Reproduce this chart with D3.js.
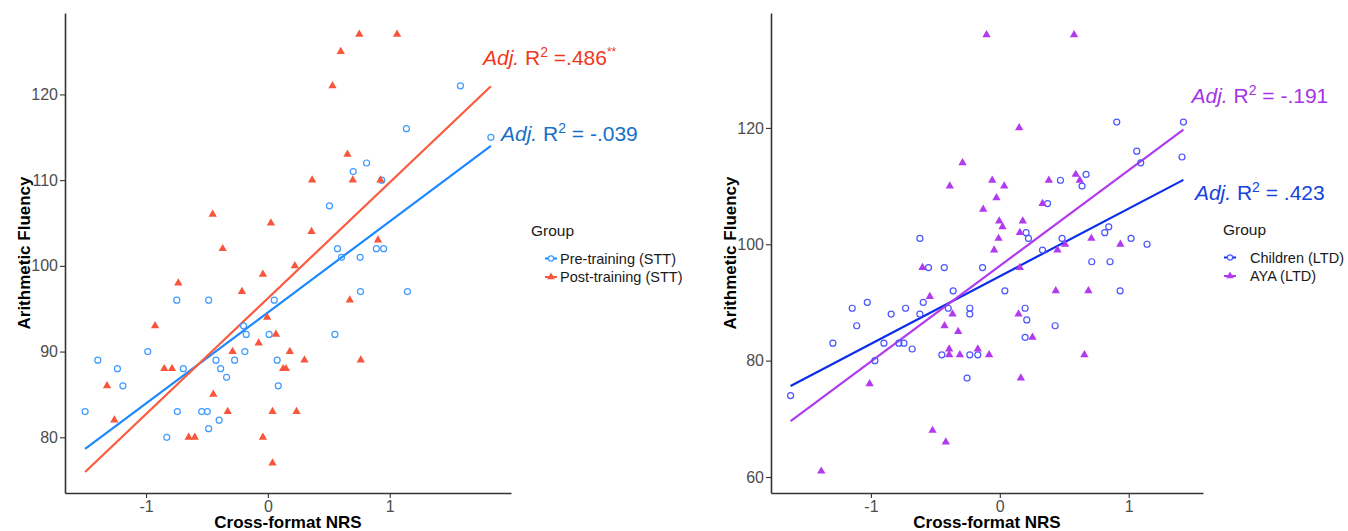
<!DOCTYPE html>
<html>
<head>
<meta charset="utf-8">
<script src="https://cdn.jsdelivr.net/npm/d3@7"></script>
<style>
  body { margin: 0; background: #fff; }
  svg { font-family: "Liberation Sans", Arial, Helvetica, sans-serif; }
</style>
</head>
<body>
<svg id="chart" width="1348" height="531"></svg>
<script>
// ---- data: [Cross-format NRS, Arithmetic Fluency] ----
const preTraining = [
  [-1.50,83],[-1.396,89],[-1.235,88],[-1.19,86],[-0.986,90],[-0.748,96],[-0.743,83],[-0.83,80],
  [-0.694,88],[-0.486,96],[-0.543,83],[-0.497,83],[-0.486,81],[-0.40,82],[-0.426,89],[-0.388,88],
  [-0.339,87],[-0.273,89],[-0.20,93],[-0.178,92],[-0.189,90],[0.01,92],[0.052,96],[0.076,89],
  [0.085,86],[0.55,92],[0.76,97],[1.145,97],[1.58,121],[1.83,115],[1.137,116],[0.81,112],
  [0.70,111],[0.934,110],[0.505,107],[0.571,102],[0.604,101],[0.757,101],[0.89,102],[0.95,102]
];
const postTraining = [
  [0.75,127],[1.06,127],[0.598,125],[0.53,121],[0.653,113],[0.363,110],[0.697,110],[0.924,110],
  [0.025,105],[-0.453,106],[-0.371,102],[0.358,104],[0.904,103],[0.221,100],[-1.32,86],[-1.26,82],
  [-0.926,93],[-0.735,98],[-0.85,88],[-0.787,88],[-0.448,85],[-0.33,83],[-0.65,80],[-0.60,80],
  [-0.29,90],[-0.213,97],[-0.041,99],[-0.006,94],[-0.076,91],[0.066,92],[-0.041,80],[0.038,83],
  [0.038,77],[0.672,96],[0.18,90],[0.30,89],[0.125,88],[0.148,88],[0.762,89],[0.235,83]
];
const children = [
  [-0.62,101],[-0.553,96],[-0.431,96],[0.907,121],[1.424,121],[1.062,116],[1.093,114],[1.413,115],
  [0.47,111],[0.669,112],[0.638,110],[0.37,107],[0.204,102],[0.222,101],[0.331,99],[0.483,101],
  [0.814,102],[0.845,103],[1.018,101],[1.142,100],[0.713,97],[0.855,97],[-0.134,96],[-0.362,92],
  [-1.145,89],[-1.028,90],[-1.11,86],[-0.843,88],[-0.731,89],[-0.594,90],[-0.62,88],[-0.40,89],
  [-1.295,83],[-0.899,83],[-0.783,83],[-0.744,83],[-0.68,82],[-0.969,80],[-0.45,81],[-1.623,74],
  [0.039,92],[0.933,92],[-0.233,89],[-0.233,88],[0.196,89],[0.209,87],[0.429,86],[0.196,84],
  [-0.233,81],[-0.171,81],[-0.254,77]
];
const aya = [
  [-0.388,110],[-0.60,96],[-0.289,114],[-0.103,136],[0.576,136],[0.15,120],[-0.059,111],[0.034,110],
  [0.38,111],[0.589,112],[0.62,111],[-0.026,108],[-0.129,106],[0.331,107],[-0.005,104],[0.178,104],
  [0.021,103],[0.155,102],[-0.01,101],[-0.044,99],[0.506,100],[0.447,99],[0.71,101],[0.935,100],
  [0.155,96],[-0.543,91],[-0.367,88],[-0.429,86],[-0.323,85],[-0.393,82],[-0.393,81],[-1.01,76],
  [-0.522,68],[-0.419,66],[-1.385,61],[0.434,92],[0.687,92],[0.145,88],[0.253,84],[-0.171,82],
  [-0.31,81],[-0.083,81],[0.656,81],[0.163,77]
];

const leftXTicks = [-1, 0, 1];
const leftYTicks = [80, 90, 100, 110, 120];
const rightXTicks = [-1, 0, 1];
const rightYTicks = [60, 80, 100, 120];

const leftLabels = ["Pre-training (STT)", "Post-training (STT)"];
const rightLabels = ["Children (LTD)", "AYA (LTD)"];
const leftR2 = ["-.039", ".486"];
const rightR2 = [".423", "-.191"];

const svg = d3.select("#chart");

// ordinary least squares, like geom_smooth(method = "lm")
function fit(pts) {
  const mx = d3.mean(pts, d => d[0]), my = d3.mean(pts, d => d[1]);
  let sxy = 0, sxx = 0;
  pts.forEach(d => { sxy += (d[0]-mx)*(d[1]-my); sxx += (d[0]-mx)*(d[0]-mx); });
  const b = sxy / sxx;
  return { a: my - b*mx, b: b };
}

function panel(cfg) {
  const x = d3.scaleLinear().domain(cfg.xDomain).range([cfg.left, cfg.right]);
  const y = d3.scaleLinear().domain(cfg.yDomain).range([493, 13]);
  const g = svg.append("g");

  // axes
  const xa = g.append("g").attr("transform", "translate(0,493)")
    .call(d3.axisBottom(x).tickValues(cfg.xTicks).tickSize(5).tickSizeOuter(0).tickFormat(d3.format("d")));
  const ya = g.append("g").attr("transform", `translate(${cfg.left},0)`)
    .call(d3.axisLeft(y).tickValues(cfg.yTicks).tickSize(5).tickSizeOuter(0));
  [xa, ya].forEach(a => {
    a.select(".domain").attr("stroke", "#333").attr("stroke-width", 1.6);
    a.selectAll(".tick line").attr("stroke", "#333").attr("stroke-width", 1.1);
    a.selectAll(".tick text").attr("fill", "#4d4d4d").style("font-size", "16px")
      .style("font-family", "Liberation Sans, Arial, sans-serif");
  });
  xa.selectAll(".tick text").attr("dy", "0.71em").text(d => d < 0 ? "-" + Math.abs(d) : d);
  ya.selectAll(".tick text").attr("x", -7);

  // regression lines over the full x range of the panel's data
  const all = cfg.groups.flatMap(s => s.data);
  const xr = d3.extent(all, d => d[0]);
  cfg.groups.forEach(s => {
    const f = fit(s.data);
    g.append("line")
      .attr("x1", x(xr[0])).attr("y1", y(f.a + f.b*xr[0]))
      .attr("x2", x(xr[1])).attr("y2", y(f.a + f.b*xr[1]))
      .attr("stroke", s.line).attr("stroke-width", 2.2);
  });

  // points
  cfg.groups.forEach(s => {
    if (s.shape === "circle") {
      g.selectAll(null).data(s.data).enter().append("circle")
        .attr("cx", d => x(d[0])).attr("cy", d => y(d[1])).attr("r", 3)
        .attr("fill", "none").attr("stroke", s.point).attr("stroke-width", 1.2);
    } else {
      g.selectAll(null).data(s.data).enter().append("path")
        .attr("d", d3.symbol(d3.symbolTriangle, 30))
        .attr("transform", d => `translate(${x(d[0])},${y(d[1])})`)
        .attr("fill", s.point);
    }
  });

  // R² annotations
  cfg.notes.forEach(n => {
    const t = g.append("text").attr("x", x(n.x)).attr("y", y(n.y))
      .attr("fill", n.color).style("font-size", "21px");
    t.append("tspan").attr("font-style", "italic").text("Adj.");
    t.append("tspan").text(" R");
    t.append("tspan").attr("dy", -8).style("font-size", "14px").text("2");
    t.append("tspan").attr("dy", 8).text(n.eq);
    if (n.stars) t.append("tspan").attr("dy", -9).style("font-size", "12px").text(n.stars);
  });

  // axis titles
  g.append("text").attr("x", (cfg.left + cfg.right)/2).attr("y", 528)
    .attr("text-anchor", "middle").attr("font-weight", "bold").style("font-size", "17px")
    .text("Cross-format NRS");
  g.append("text").attr("transform", `translate(${cfg.left - 35},253) rotate(-90)`)
    .attr("text-anchor", "middle").attr("font-weight", "bold").style("font-size", "17px")
    .text("Arithmetic Fluency");

  // legend
  const lg = g.append("g").attr("transform", `translate(${cfg.legend[0]},${cfg.legend[1]})`);
  lg.append("text").attr("x", 0).attr("y", 0).style("font-size", "15.5px").attr("fill", "#1a1a1a").text("Group");
  cfg.groups.forEach((s, i) => {
    const cy = 22.5 + i*18.5;
    const kx = cfg.keyX;
    lg.append("line").attr("x1", kx - 6).attr("x2", kx + 6).attr("y1", cy).attr("y2", cy)
      .attr("stroke", s.line).attr("stroke-width", 2);
    if (s.shape === "circle") {
      lg.append("circle").attr("cx", kx).attr("cy", cy).attr("r", 2.6)
        .attr("fill", "#fff").attr("stroke", s.point).attr("stroke-width", 1.2);
    } else {
      lg.append("path").attr("d", d3.symbol(d3.symbolTriangle, 26))
        .attr("transform", `translate(${kx},${cy})`).attr("fill", s.point);
    }
    lg.append("text").attr("x", cfg.textX).attr("y", cy + 5).style("font-size", "14.5px")
      .attr("fill", "#1a1a1a").text(s.label);
  });
}

panel({
  left: 65, right: 511,
  xDomain: [-1.665, 1.995], yDomain: [73.5, 129.5],
  xTicks: leftXTicks, yTicks: leftYTicks,
  groups: [
    { data: preTraining, label: leftLabels[0], shape: "circle", point: "#3d9bff", line: "#1e88ff" },
    { data: postTraining, label: leftLabels[1], shape: "triangle", point: "#f8563c", line: "#fa5a3e" }
  ],
  notes: [
    { x: 1.765, y: 123.4, eq: " =" + leftR2[1], stars: "**", color: "#f0381c" },
    { x: 1.913, y: 114.6, eq: " = " + leftR2[0], color: "#1670c6" }
  ],
  legend: [531, 236], keyX: 20, textX: 29
});

panel({
  left: 771, right: 1203,
  xDomain: [-1.775, 1.576], yDomain: [57.25, 139.75],
  xTicks: rightXTicks, yTicks: rightYTicks,
  groups: [
    { data: children, label: rightLabels[0], shape: "circle", point: "#4a55ff", line: "#0a2ee8" },
    { data: aya, label: rightLabels[1], shape: "triangle", point: "#b23aee", line: "#b23aee" }
  ],
  notes: [
    { x: 1.487, y: 124.3, eq: " = " + rightR2[1], color: "#a534e8" },
    { x: 1.513, y: 107.6, eq: " = " + rightR2[0], color: "#1642e0" }
  ],
  legend: [1223, 235], keyX: 7, textX: 27
});
</script>
</body>
</html>
